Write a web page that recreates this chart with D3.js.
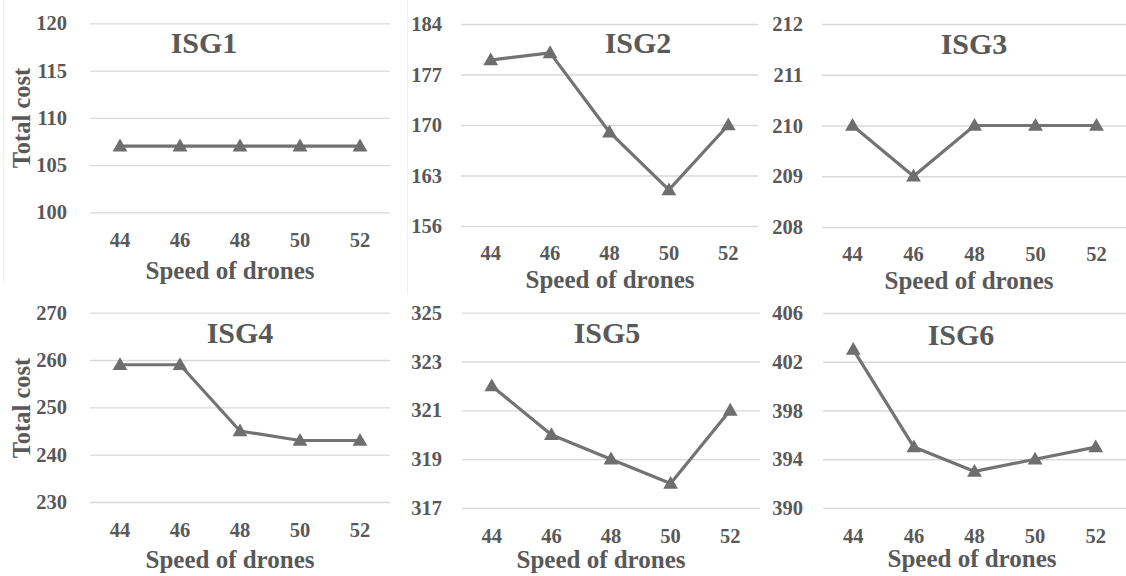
<!DOCTYPE html>
<html>
<head>
<meta charset="utf-8">
<script src="https://cdn.jsdelivr.net/npm/d3@7"></script>
<style>
  body { margin: 0; background: #fff; }
  svg { display: block; }
  text { font-family: "Liberation Serif", "Times New Roman", serif; font-weight: bold; fill: #595959; }
</style>
</head>
<body>
<svg id="chart" width="1126" height="576"></svg>
<script>
// speeds of drones (x categories)
const speeds = [44, 46, 48, 50, 52];

// total cost per instance group
const isg1 = [107, 107, 107, 107, 107];
const isg2 = [179, 180, 169, 161, 170];
const isg3 = [210, 209, 210, 210, 210];
const isg4 = [259, 259, 245, 243, 243];
const isg5 = [322, 320, 319, 318, 321];
const isg6 = [403, 395, 393, 394, 395];

// y tick labels of every panel
const ticks1 = [100, 105, 110, 115, 120];
const ticks2 = [156, 163, 170, 177, 184];
const ticks3 = [208, 209, 210, 211, 212];
const ticks4 = [230, 240, 250, 260, 270];
const ticks5 = [317, 319, 321, 323, 325];
const ticks6 = [390, 394, 398, 402, 406];

const titles = ["ISG1", "ISG2", "ISG3", "ISG4", "ISG5", "ISG6"];
const series = [isg1, isg2, isg3, isg4, isg5, isg6];
const tickSets = [ticks1, ticks2, ticks3, ticks4, ticks5, ticks6];

// where each little chart sits on the page
const layout = [
    { x0: 90,  x1: 390,  yTop: 23.3,  yBot: 212.3, pad: 23, xTickY: 247, titleX: 204, titleY: 53,  labX: 230, labY: 279, yLab: 118 },
    { x0: 461, x1: 758,  yTop: 24,    yBot: 226,   pad: 19, xTickY: 260, titleX: 638, titleY: 53,  labX: 610, labY: 288 },
    { x0: 822, x1: 1127, yTop: 24,    yBot: 227,   pad: 19, xTickY: 261, titleX: 974, titleY: 54,  labX: 969, labY: 289 },
    { x0: 90,  x1: 390,  yTop: 312.7, yBot: 502,   pad: 23, xTickY: 537, titleX: 240, titleY: 343, labX: 230, labY: 568, yLab: 408 },
    { x0: 462, x1: 760,  yTop: 312.7, yBot: 508,   pad: 20, xTickY: 543, titleX: 607, titleY: 343, labX: 601, labY: 568 },
    { x0: 823, x1: 1126, yTop: 313,   yBot: 508,   pad: 20, xTickY: 543, titleX: 961, titleY: 345, labX: 972, labY: 567 }
];

const svg = d3.select("#chart");

// faint frame edges left over from the pasted pictures
svg.append("line").attr("x1", 3.5).attr("x2", 3.5).attr("y1", 0).attr("y2", 283)
    .attr("stroke", "#efefef").attr("stroke-width", 1);
svg.append("line").attr("x1", 407.5).attr("x2", 407.5).attr("y1", 0).attr("y2", 294)
    .attr("stroke", "#efefef").attr("stroke-width", 1);

const lineColor = "#737373";
const triangle = d3.symbol().type(d3.symbolTriangle).size(95);

series.forEach(function(values, i) {
    const L = layout[i];
    const ticks = tickSets[i];

    const x = d3.scaleBand().domain(speeds).range([L.x0, L.x1]).padding(0);
    const y = d3.scaleLinear().domain([ticks[0], ticks[ticks.length - 1]]).range([L.yBot, L.yTop]);

    const g = svg.append("g");

    // y axis with gridlines
    const yAxis = g.append("g")
        .attr("transform", "translate(" + L.x0 + ",0)")
        .call(d3.axisLeft(y).tickValues(ticks).tickFormat(d3.format("d"))
            .tickSize(-(L.x1 - L.x0)).tickPadding(L.pad));
    yAxis.select(".domain").remove();
    yAxis.selectAll("line").attr("stroke", "#d9d9d9").attr("stroke-width", 1.3);
    yAxis.selectAll("text")
        .attr("font-size", "20.5px")
        .attr("font-family", null)
        .attr("fill", null);

    // x axis, labels only
    const xAxis = g.append("g")
        .attr("transform", "translate(0," + L.xTickY + ")")
        .call(d3.axisBottom(x).tickSize(0));
    xAxis.select(".domain").remove();
    xAxis.selectAll("text")
        .attr("y", 0)
        .attr("dy", null)
        .attr("font-size", "20.5px")
        .attr("font-family", null)
        .attr("fill", null);

    // line + markers
    const pts = speeds.map(function(s, k) { return { s: s, v: values[k] }; });
    const line = d3.line()
        .x(function(d) { return x(d.s) + x.bandwidth() / 2; })
        .y(function(d) { return y(d.v); });

    g.append("path")
        .datum(pts)
        .attr("d", line)
        .attr("fill", "none")
        .attr("stroke", lineColor)
        .attr("stroke-width", 3.2)
        .attr("stroke-linejoin", "round");

    g.selectAll("path.marker")
        .data(pts)
        .enter()
        .append("path")
        .attr("class", "marker")
        .attr("d", triangle)
        .attr("transform", function(d) {
            return "translate(" + (x(d.s) + x.bandwidth() / 2) + "," + (y(d.v) + 1) + ")";
        })
        .attr("fill", "#6e6e6e");

    // panel title
    g.append("text")
        .attr("x", L.titleX)
        .attr("y", L.titleY)
        .attr("text-anchor", "middle")
        .attr("font-size", "30px")
        .text(titles[i]);

    // x axis title
    g.append("text")
        .attr("x", L.labX)
        .attr("y", L.labY)
        .attr("text-anchor", "middle")
        .attr("font-size", "25px")
        .text("Speed of drones");

    // y axis title only on the left column
    if (L.yLab !== undefined) {
        g.append("text")
            .attr("transform", "translate(30," + L.yLab + ") rotate(-90)")
            .attr("text-anchor", "middle")
            .attr("font-size", "24.5px")
            .text("Total cost");
    }
});
</script>
</body>
</html>
